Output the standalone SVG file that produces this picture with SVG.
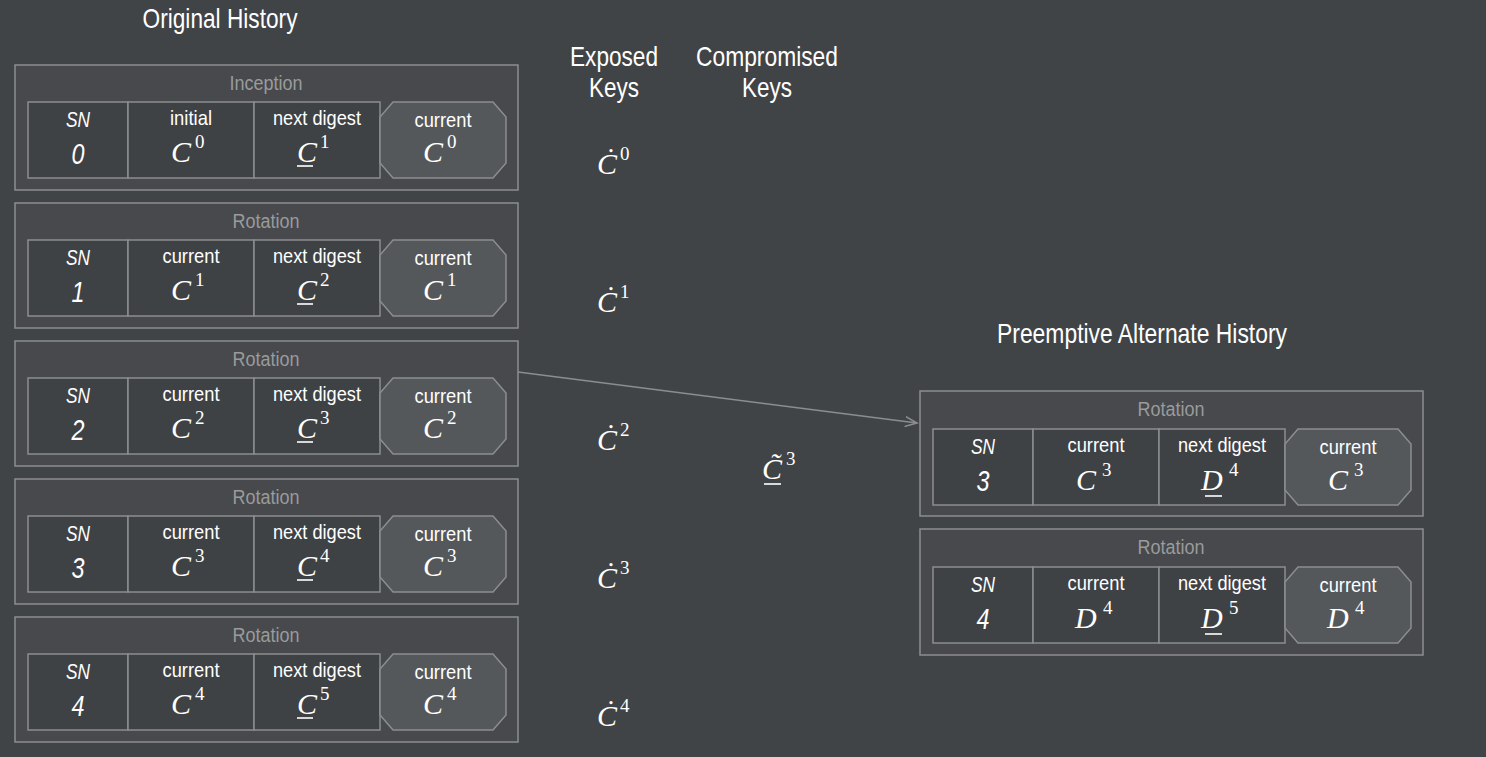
<svg xmlns="http://www.w3.org/2000/svg" width="1486" height="757" viewBox="0 0 1486 757">
<defs>
<style>
.bg{fill:#414447}
.box{fill:#47494c;stroke:#8c8d8e;stroke-width:1.5}
.cell{fill:#3f4245;stroke:#8c8d8e;stroke-width:1.5}
.oct{fill:#55585b;stroke:#8c8d8e;stroke-width:1.5}
.s{font-family:'Liberation Sans',Arial,sans-serif;text-anchor:middle;fill:#ffffff}
.ttl{font-size:20px;fill:#9a9b9c}
.lbl{font-size:21px}
.sn{font-size:22px;font-style:italic}
.snv{font-size:29px;font-style:italic}
.hdr{font-size:28px}
.m{font-family:'Liberation Serif','Times New Roman',serif;font-size:30px;fill:#ffffff}
.mi{font-style:italic}
.sup{font-size:19px}
.ul{stroke:#ffffff;stroke-width:1.6}
.con{stroke:#8c8d8e;stroke-width:1.5;fill:none}
</style>
<marker id="arr" markerWidth="14" markerHeight="12" refX="12" refY="6" orient="auto" markerUnits="userSpaceOnUse">
<path d="M0,1 L12,6 L0,11" fill="none" stroke="#8c8d8e" stroke-width="1.5"/>
</marker>
</defs>
<rect class="bg" x="0" y="0" width="1486" height="757"/>

<text class="s hdr" x="220" y="28" textLength="155" lengthAdjust="spacingAndGlyphs">Original History</text>
<text class="s hdr" x="614" y="66" textLength="88" lengthAdjust="spacingAndGlyphs">Exposed</text>
<text class="s hdr" x="614" y="97" textLength="50" lengthAdjust="spacingAndGlyphs">Keys</text>
<text class="s hdr" x="767" y="66" textLength="142" lengthAdjust="spacingAndGlyphs">Compromised</text>
<text class="s hdr" x="767" y="97" textLength="50" lengthAdjust="spacingAndGlyphs">Keys</text>
<text class="s hdr" x="1142" y="343" textLength="290" lengthAdjust="spacingAndGlyphs">Preemptive Alternate History</text>

<g id="inception0">
<rect class="box" x="15" y="65" width="503" height="125"/>
<text class="s ttl" x="266" y="90" textLength="73" lengthAdjust="spacingAndGlyphs">Inception</text>
<rect class="cell" x="28" y="102" width="100" height="76"/>
<rect class="cell" x="128" y="102" width="126" height="76"/>
<rect class="cell" x="254" y="102" width="126" height="76"/>
<polygon class="oct" points="393,102 493,102 506,117 506,163 493,178 393,178 380,163 380,117"/>
<text class="s sn" x="78" y="127" textLength="24" lengthAdjust="spacingAndGlyphs">SN</text><text class="s snv" x="78" y="164" textLength="13" lengthAdjust="spacingAndGlyphs">0</text>
<text class="s lbl" x="191" y="125" textLength="42" lengthAdjust="spacingAndGlyphs">initial</text>
<text class="m" y="162"><tspan class="mi" x="171">C</tspan><tspan class="sup" x="195" dy="-14">0</tspan></text>
<text class="s lbl" x="317" y="125" textLength="88" lengthAdjust="spacingAndGlyphs">next digest</text>
<text class="m" y="162"><tspan class="mi" x="297">C</tspan><tspan class="sup" x="320" dy="-14">1</tspan></text>
<line class="ul" x1="297" y1="166" x2="313" y2="166"/>
<text class="s lbl" x="443" y="127" textLength="57" lengthAdjust="spacingAndGlyphs">current</text>
<text class="m" y="162"><tspan class="mi" x="423">C</tspan><tspan class="sup" x="447" dy="-14">0</tspan></text>
</g>

<g id="rotation1">
<rect class="box" x="15" y="203" width="503" height="125"/>
<text class="s ttl" x="266" y="228" textLength="67" lengthAdjust="spacingAndGlyphs">Rotation</text>
<rect class="cell" x="28" y="240" width="100" height="76"/>
<rect class="cell" x="128" y="240" width="126" height="76"/>
<rect class="cell" x="254" y="240" width="126" height="76"/>
<polygon class="oct" points="393,240 493,240 506,255 506,301 493,316 393,316 380,301 380,255"/>
<text class="s sn" x="78" y="265" textLength="24" lengthAdjust="spacingAndGlyphs">SN</text><text class="s snv" x="78" y="302" textLength="13" lengthAdjust="spacingAndGlyphs">1</text>
<text class="s lbl" x="191" y="263" textLength="57" lengthAdjust="spacingAndGlyphs">current</text>
<text class="m" y="300"><tspan class="mi" x="171">C</tspan><tspan class="sup" x="195" dy="-14">1</tspan></text>
<text class="s lbl" x="317" y="263" textLength="88" lengthAdjust="spacingAndGlyphs">next digest</text>
<text class="m" y="300"><tspan class="mi" x="297">C</tspan><tspan class="sup" x="320" dy="-14">2</tspan></text>
<line class="ul" x1="297" y1="304" x2="313" y2="304"/>
<text class="s lbl" x="443" y="265" textLength="57" lengthAdjust="spacingAndGlyphs">current</text>
<text class="m" y="300"><tspan class="mi" x="423">C</tspan><tspan class="sup" x="447" dy="-14">1</tspan></text>
</g>

<g id="rotation2">
<rect class="box" x="15" y="341" width="503" height="125"/>
<text class="s ttl" x="266" y="366" textLength="67" lengthAdjust="spacingAndGlyphs">Rotation</text>
<rect class="cell" x="28" y="378" width="100" height="76"/>
<rect class="cell" x="128" y="378" width="126" height="76"/>
<rect class="cell" x="254" y="378" width="126" height="76"/>
<polygon class="oct" points="393,378 493,378 506,393 506,439 493,454 393,454 380,439 380,393"/>
<text class="s sn" x="78" y="403" textLength="24" lengthAdjust="spacingAndGlyphs">SN</text><text class="s snv" x="78" y="440" textLength="13" lengthAdjust="spacingAndGlyphs">2</text>
<text class="s lbl" x="191" y="401" textLength="57" lengthAdjust="spacingAndGlyphs">current</text>
<text class="m" y="438"><tspan class="mi" x="171">C</tspan><tspan class="sup" x="195" dy="-14">2</tspan></text>
<text class="s lbl" x="317" y="401" textLength="88" lengthAdjust="spacingAndGlyphs">next digest</text>
<text class="m" y="438"><tspan class="mi" x="297">C</tspan><tspan class="sup" x="320" dy="-14">3</tspan></text>
<line class="ul" x1="297" y1="442" x2="313" y2="442"/>
<text class="s lbl" x="443" y="403" textLength="57" lengthAdjust="spacingAndGlyphs">current</text>
<text class="m" y="438"><tspan class="mi" x="423">C</tspan><tspan class="sup" x="447" dy="-14">2</tspan></text>
</g>

<g id="rotation3">
<rect class="box" x="15" y="479" width="503" height="125"/>
<text class="s ttl" x="266" y="504" textLength="67" lengthAdjust="spacingAndGlyphs">Rotation</text>
<rect class="cell" x="28" y="516" width="100" height="76"/>
<rect class="cell" x="128" y="516" width="126" height="76"/>
<rect class="cell" x="254" y="516" width="126" height="76"/>
<polygon class="oct" points="393,516 493,516 506,531 506,577 493,592 393,592 380,577 380,531"/>
<text class="s sn" x="78" y="541" textLength="24" lengthAdjust="spacingAndGlyphs">SN</text><text class="s snv" x="78" y="578" textLength="13" lengthAdjust="spacingAndGlyphs">3</text>
<text class="s lbl" x="191" y="539" textLength="57" lengthAdjust="spacingAndGlyphs">current</text>
<text class="m" y="576"><tspan class="mi" x="171">C</tspan><tspan class="sup" x="195" dy="-14">3</tspan></text>
<text class="s lbl" x="317" y="539" textLength="88" lengthAdjust="spacingAndGlyphs">next digest</text>
<text class="m" y="576"><tspan class="mi" x="297">C</tspan><tspan class="sup" x="320" dy="-14">4</tspan></text>
<line class="ul" x1="297" y1="580" x2="313" y2="580"/>
<text class="s lbl" x="443" y="541" textLength="57" lengthAdjust="spacingAndGlyphs">current</text>
<text class="m" y="576"><tspan class="mi" x="423">C</tspan><tspan class="sup" x="447" dy="-14">3</tspan></text>
</g>

<g id="rotation4">
<rect class="box" x="15" y="617" width="503" height="125"/>
<text class="s ttl" x="266" y="642" textLength="67" lengthAdjust="spacingAndGlyphs">Rotation</text>
<rect class="cell" x="28" y="654" width="100" height="76"/>
<rect class="cell" x="128" y="654" width="126" height="76"/>
<rect class="cell" x="254" y="654" width="126" height="76"/>
<polygon class="oct" points="393,654 493,654 506,669 506,715 493,730 393,730 380,715 380,669"/>
<text class="s sn" x="78" y="679" textLength="24" lengthAdjust="spacingAndGlyphs">SN</text><text class="s snv" x="78" y="716" textLength="13" lengthAdjust="spacingAndGlyphs">4</text>
<text class="s lbl" x="191" y="677" textLength="57" lengthAdjust="spacingAndGlyphs">current</text>
<text class="m" y="714"><tspan class="mi" x="171">C</tspan><tspan class="sup" x="195" dy="-14">4</tspan></text>
<text class="s lbl" x="317" y="677" textLength="88" lengthAdjust="spacingAndGlyphs">next digest</text>
<text class="m" y="714"><tspan class="mi" x="297">C</tspan><tspan class="sup" x="320" dy="-14">5</tspan></text>
<line class="ul" x1="297" y1="718" x2="313" y2="718"/>
<text class="s lbl" x="443" y="679" textLength="57" lengthAdjust="spacingAndGlyphs">current</text>
<text class="m" y="714"><tspan class="mi" x="423">C</tspan><tspan class="sup" x="447" dy="-14">4</tspan></text>
</g>

<g id="alt3">
<rect class="box" x="920" y="391" width="503" height="125"/>
<text class="s ttl" x="1171" y="416" textLength="67" lengthAdjust="spacingAndGlyphs">Rotation</text>
<rect class="cell" x="933" y="429" width="100" height="76"/>
<rect class="cell" x="1033" y="429" width="126" height="76"/>
<rect class="cell" x="1159" y="429" width="126" height="76"/>
<polygon class="oct" points="1298,429 1398,429 1411,444 1411,490 1398,505 1298,505 1285,490 1285,444"/>
<text class="s sn" x="983" y="454" textLength="24" lengthAdjust="spacingAndGlyphs">SN</text><text class="s snv" x="983" y="491" textLength="13" lengthAdjust="spacingAndGlyphs">3</text>
<text class="s lbl" x="1096" y="452" textLength="57" lengthAdjust="spacingAndGlyphs">current</text>
<text class="m" y="490"><tspan class="mi" x="1076">C</tspan><tspan class="sup" x="1102" dy="-14">3</tspan></text>
<text class="s lbl" x="1222" y="452" textLength="88" lengthAdjust="spacingAndGlyphs">next digest</text>
<text class="m" y="490"><tspan class="mi" x="1201">D</tspan><tspan class="sup" x="1229" dy="-14">4</tspan></text>
<line class="ul" x1="1205" y1="496" x2="1222" y2="496"/>
<text class="s lbl" x="1348" y="454" textLength="57" lengthAdjust="spacingAndGlyphs">current</text>
<text class="m" y="490"><tspan class="mi" x="1328">C</tspan><tspan class="sup" x="1354" dy="-14">3</tspan></text>
</g>

<g id="alt4">
<rect class="box" x="920" y="529" width="503" height="126"/>
<text class="s ttl" x="1171" y="554" textLength="67" lengthAdjust="spacingAndGlyphs">Rotation</text>
<rect class="cell" x="933" y="567" width="100" height="76"/>
<rect class="cell" x="1033" y="567" width="126" height="76"/>
<rect class="cell" x="1159" y="567" width="126" height="76"/>
<polygon class="oct" points="1298,567 1398,567 1411,582 1411,628 1398,643 1298,643 1285,628 1285,582"/>
<text class="s sn" x="983" y="592" textLength="24" lengthAdjust="spacingAndGlyphs">SN</text><text class="s snv" x="983" y="629" textLength="13" lengthAdjust="spacingAndGlyphs">4</text>
<text class="s lbl" x="1096" y="590" textLength="57" lengthAdjust="spacingAndGlyphs">current</text>
<text class="m" y="628"><tspan class="mi" x="1075">D</tspan><tspan class="sup" x="1103" dy="-14">4</tspan></text>
<text class="s lbl" x="1222" y="590" textLength="88" lengthAdjust="spacingAndGlyphs">next digest</text>
<text class="m" y="628"><tspan class="mi" x="1201">D</tspan><tspan class="sup" x="1229" dy="-14">5</tspan></text>
<line class="ul" x1="1205" y1="634" x2="1222" y2="634"/>
<text class="s lbl" x="1348" y="592" textLength="57" lengthAdjust="spacingAndGlyphs">current</text>
<text class="m" y="628"><tspan class="mi" x="1327">D</tspan><tspan class="sup" x="1355" dy="-14">4</tspan></text>
</g>

<g id="exposed">
<text class="m" y="174"><tspan class="mi" x="597">Ċ</tspan><tspan class="sup" x="620" dy="-14">0</tspan></text>
<text class="m" y="312"><tspan class="mi" x="597">Ċ</tspan><tspan class="sup" x="620" dy="-14">1</tspan></text>
<text class="m" y="450"><tspan class="mi" x="597">Ċ</tspan><tspan class="sup" x="620" dy="-14">2</tspan></text>
<text class="m" y="588"><tspan class="mi" x="597">Ċ</tspan><tspan class="sup" x="620" dy="-14">3</tspan></text>
<text class="m" y="726"><tspan class="mi" x="597">Ċ</tspan><tspan class="sup" x="620" dy="-14">4</tspan></text>
</g>

<g id="compromised">
<text class="m" y="479"><tspan class="mi" x="762">C̃</tspan><tspan class="sup" x="786" dy="-14">3</tspan></text>
<line class="ul" x1="764" y1="484" x2="781" y2="484"/>
</g>

<g id="connectors">
<line class="con" x1="518" y1="372" x2="917" y2="423" marker-end="url(#arr)"/>
</g>
</svg>
